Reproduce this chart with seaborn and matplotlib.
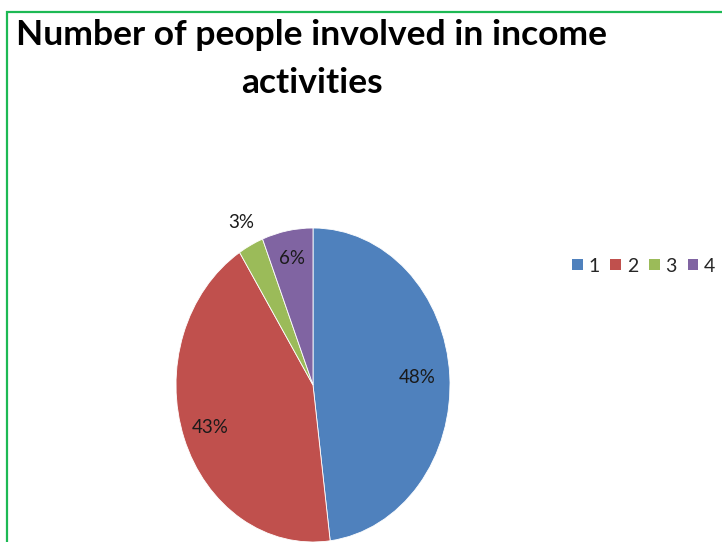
import numpy as np
import matplotlib
matplotlib.use("Agg")
import matplotlib.pyplot as plt
from matplotlib.patches import Rectangle, Patch
import seaborn as sns

# Share of people by number of income activities
categories = ["1", "2", "3", "4"]
shares = [48, 43, 3, 6]
colors = ["#4F81BD", "#C0504D", "#9BBB59", "#8064A2"]
title_text = "Number of people involved in income\nactivities"

sns.set_theme(style="white")
plt.rcParams["font.family"] = ["Lato", "DejaVu Sans"]

W, H = 722, 542
fig = plt.figure(figsize=(W / 100, H / 100), dpi=100)
fig.patch.set_facecolor("white")

# green frame around the chart area
fig.add_artist(Rectangle((7 / W, -0.05), 1.2, 1 - 12 / H + 0.05,
                         transform=fig.transFigure, fill=False,
                         edgecolor="#1DB954", linewidth=1.6, zorder=0))

# pie axes, stretched vertically
px0, px1 = 176, 450
py0, py1 = 228, 542
ax = fig.add_axes([px0 / W, (H - py1) / H, (px1 - px0) / W, (py1 - py0) / H])
wedges, _ = ax.pie(shares, colors=colors, startangle=90, counterclock=False,
                   wedgeprops=dict(edgecolor="white", linewidth=0.6))
ax.set_aspect("auto")
ax.set_xlim(-1, 1)
ax.set_ylim(-1, 1)

# percentage labels placed along each wedge's mid angle
dists = [0.76, 0.80, 1.16, 0.82]
for w, s, d in zip(wedges, shares, dists):
    ang = np.deg2rad((w.theta1 + w.theta2) / 2)
    ax.text(d * np.cos(ang), d * np.sin(ang), f"{s}%", ha="center", va="center",
            fontsize=13.5, color="#1a1a1a", clip_on=False)

fig.text(312 / W, 1 - 19 / H, title_text, ha="center", va="top",
         fontsize=25.5, fontweight="bold", color="black", linespacing=1.6)

handles = [Patch(facecolor=c, edgecolor="none") for c in colors]
fig.legend(handles, categories, loc="center left",
           bbox_to_anchor=(572 / W, 1 - 266 / H), ncol=4, frameon=False,
           fontsize=14, handlelength=0.55, handleheight=0.55,
           handletextpad=0.3, columnspacing=0.55, borderpad=0, borderaxespad=0)

fig.savefig("out.png", dpi=100, facecolor="white")
